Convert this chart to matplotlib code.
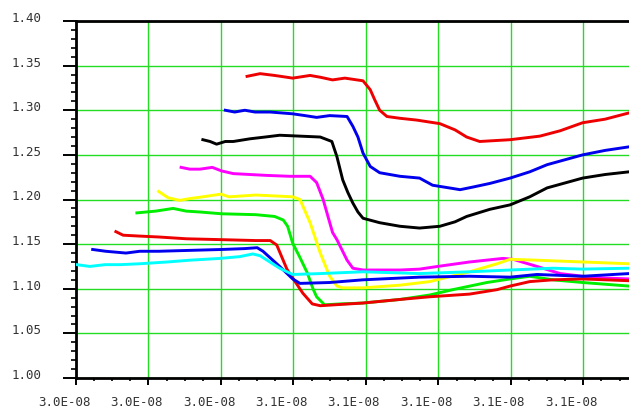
"""
Curvas de transicion (9 trazas) sobre rejilla verde.
"""

from __future__ import annotations

import matplotlib

matplotlib.use("Agg")
import matplotlib.pyplot as plt
from matplotlib.ticker import FixedLocator, MultipleLocator, FixedFormatter
from matplotlib.transforms import ScaledTranslation


# --- Datos (eje x en divisiones de la rejilla) ---
X_TICK_LABELS = ["3.0E-08", "3.0E-08", "3.0E-08", "3.1E-08",
                 "3.1E-08", "3.1E-08", "3.1E-08", "3.1E-08"]
Y_TICKS = [1.00, 1.05, 1.10, 1.15, 1.20, 1.25, 1.30, 1.35, 1.40]

X_RED_TOP = [2.36, 2.54, 2.74, 2.99, 3.23, 3.37, 3.54, 3.71, 3.96, 4.06, 4.12, 4.19,
             4.29, 4.47, 4.70, 5.02, 5.23, 5.39, 5.57, 5.99, 6.40, 6.68, 6.99, 7.30, 7.63]
Y_RED_TOP = [1.338, 1.341, 1.339, 1.336, 1.339, 1.337, 1.334, 1.336, 1.333, 1.323, 1.312, 1.300,
             1.293, 1.291, 1.289, 1.285, 1.278, 1.270, 1.265, 1.267, 1.271, 1.277, 1.286, 1.290, 1.297]

X_BLUE_TOP = [2.06, 2.19, 2.33, 2.47, 2.68, 2.99, 3.16, 3.32, 3.50, 3.74, 3.82, 3.89, 3.96,
              4.06, 4.19, 4.47, 4.74, 4.92, 5.30, 5.48, 5.71, 5.99, 6.26, 6.50, 6.99, 7.30, 7.63]
Y_BLUE_TOP = [1.300, 1.298, 1.300, 1.298, 1.298, 1.296, 1.294, 1.292, 1.294, 1.293, 1.282, 1.270, 1.252,
              1.237, 1.230, 1.226, 1.224, 1.216, 1.211, 1.214, 1.218, 1.224, 1.231, 1.239, 1.250, 1.255, 1.259]

X_BLACK = [1.75, 1.85, 1.94, 2.06, 2.17, 2.40, 2.61, 2.81, 3.09, 3.37, 3.53, 3.60, 3.68, 3.75,
           3.82, 3.89, 3.96, 4.19, 4.47, 4.74, 5.02, 5.23, 5.39, 5.71, 5.99, 6.26, 6.50, 6.99, 7.30, 7.63]
Y_BLACK = [1.267, 1.265, 1.262, 1.265, 1.265, 1.268, 1.270, 1.272, 1.271, 1.270, 1.265, 1.248, 1.222, 1.208,
           1.196, 1.186, 1.179, 1.174, 1.170, 1.168, 1.170, 1.175, 1.181, 1.189, 1.194, 1.203, 1.213, 1.224, 1.228, 1.231]

X_MAGENTA = [1.45, 1.57, 1.71, 1.88, 2.01, 2.17, 2.40, 2.63, 2.95, 3.23, 3.32, 3.41, 3.48, 3.54,
             3.60, 3.74, 3.82, 3.96, 4.47, 4.74, 4.99, 5.43, 5.89, 6.03, 6.36, 6.68, 6.99, 7.30, 7.63]
Y_MAGENTA = [1.236, 1.234, 1.234, 1.236, 1.232, 1.229, 1.228, 1.227, 1.226, 1.226, 1.219, 1.200, 1.180, 1.163,
             1.155, 1.132, 1.123, 1.121, 1.121, 1.122, 1.125, 1.130, 1.134, 1.133, 1.125, 1.117, 1.114, 1.112, 1.111]

X_YELLOW = [1.14, 1.27, 1.43, 1.57, 1.75, 2.00, 2.11, 2.48, 2.74, 2.99, 3.09, 3.23, 3.37, 3.50,
            3.60, 3.68, 3.96, 4.47, 4.88, 5.43, 5.81, 5.99, 6.36, 6.99, 7.63]
Y_YELLOW = [1.209, 1.202, 1.199, 1.201, 1.203, 1.206, 1.203, 1.205, 1.204, 1.203, 1.200, 1.174, 1.140, 1.114,
            1.103, 1.101, 1.101, 1.104, 1.108, 1.119, 1.128, 1.133, 1.132, 1.130, 1.128]

X_GREEN = [0.84, 1.10, 1.34, 1.52, 1.71, 2.01, 2.48, 2.74, 2.86, 2.92, 2.99, 3.09, 3.19, 3.27, 3.32,
           3.43, 3.64, 3.96, 4.47, 4.88, 5.20, 5.67, 5.99, 6.26, 6.58, 6.99, 7.63]
Y_GREEN = [1.185, 1.187, 1.190, 1.187, 1.186, 1.184, 1.183, 1.181, 1.177, 1.170, 1.151, 1.135, 1.118, 1.100, 1.091,
           1.082, 1.083, 1.084, 1.088, 1.093, 1.099, 1.107, 1.111, 1.114, 1.110, 1.107, 1.103]

X_RED_LOW = [0.55, 0.65, 0.88, 1.14, 1.52, 2.01, 2.48, 2.68, 2.77, 2.91, 2.99, 3.13, 3.26, 3.37,
             3.96, 4.47, 4.88, 5.43, 5.81, 5.99, 6.26, 6.58, 6.99, 7.63]
Y_RED_LOW = [1.164, 1.160, 1.159, 1.158, 1.156, 1.155, 1.154, 1.154, 1.149, 1.122, 1.112, 1.095, 1.083, 1.081,
             1.084, 1.088, 1.091, 1.094, 1.099, 1.103, 1.108, 1.110, 1.111, 1.109]

X_BLUE_LOW = [0.23, 0.41, 0.69, 0.88, 1.14, 1.57, 2.01, 2.33, 2.50, 2.58, 2.81, 2.99, 3.09, 3.50,
              3.96, 4.74, 5.43, 5.99, 6.36, 6.99, 7.63]
Y_BLUE_LOW = [1.144, 1.142, 1.140, 1.142, 1.142, 1.143, 1.144, 1.145, 1.146, 1.142, 1.125, 1.111, 1.106, 1.107,
              1.110, 1.113, 1.114, 1.113, 1.116, 1.114, 1.117]

X_CYAN = [0.01, 0.19, 0.40, 0.61, 0.88, 1.26, 1.57, 1.99, 2.26, 2.44, 2.54, 2.81, 2.99, 3.37,
          3.96, 4.74, 5.43, 5.99, 6.58, 6.99, 7.63]
Y_CYAN = [1.127, 1.125, 1.127, 1.127, 1.128, 1.130, 1.132, 1.134, 1.136, 1.139, 1.137, 1.123, 1.116, 1.117,
          1.119, 1.117, 1.119, 1.121, 1.123, 1.122, 1.123]

SERIES = [
    (X_RED_TOP, Y_RED_TOP, "#ee0000"),
    (X_BLUE_TOP, Y_BLUE_TOP, "#0000ee"),
    (X_BLACK, Y_BLACK, "#000000"),
    (X_MAGENTA, Y_MAGENTA, "#ff00ff"),
    (X_YELLOW, Y_YELLOW, "#ffff00"),
    (X_GREEN, Y_GREEN, "#00ee00"),
    (X_RED_LOW, Y_RED_LOW, "#ee0000"),
    (X_BLUE_LOW, Y_BLUE_LOW, "#0000ee"),
    (X_CYAN, Y_CYAN, "#00ffff"),
]

GRID_GREEN = "#22dd22"
OUT = "out.png"


def main() -> None:
    fig = plt.figure(figsize=(6.29, 4.11), dpi=100)
    ax = fig.add_axes([76 / 629, 33 / 411, 1 - 76 / 629, 357 / 411])

    for xs, ys, color in SERIES:
        ax.plot(xs, ys, color=color, linewidth=2.1, zorder=3)

    ax.set_xlim(0, 7.63)
    ax.set_ylim(1.0, 1.4)

    # --- Ejes y rejilla ---
    ax.xaxis.set_major_locator(FixedLocator(range(len(X_TICK_LABELS))))
    ax.xaxis.set_major_formatter(FixedFormatter(X_TICK_LABELS))
    ax.xaxis.set_minor_locator(MultipleLocator(0.25))
    ax.set_yticks(Y_TICKS)
    ax.set_yticklabels([f"{v:.2f}" for v in Y_TICKS])
    ax.yaxis.set_minor_locator(MultipleLocator(0.01))

    ax.grid(True, which="major", color=GRID_GREEN, linewidth=1.0, zorder=1)
    ax.set_axisbelow(True)

    ax.spines["right"].set_visible(False)
    for side in ("top", "left", "bottom"):
        ax.spines[side].set_linewidth(2.0)
        ax.spines[side].set_color("black")

    ax.tick_params(axis="y", which="major", direction="out", length=9.5, width=1.4,
                   pad=15, labelsize=9, labelcolor="#333333")
    ax.tick_params(axis="y", which="minor", direction="out", length=3.5, width=1.2)
    ax.tick_params(axis="x", which="major", direction="out", length=5, width=1.4,
                   pad=8, labelsize=9, labelcolor="#333333")
    ax.tick_params(axis="x", which="minor", direction="out", length=2.5, width=1.2)

    for lbl in ax.get_xticklabels() + ax.get_yticklabels():
        lbl.set_family("DejaVu Sans Mono")

    # etiquetas ligeramente desplazadas como en el original
    dx = ScaledTranslation(-12 / 100, 0, fig.dpi_scale_trans)
    dy = ScaledTranslation(0, 4 / 100, fig.dpi_scale_trans)
    for lbl in ax.get_xticklabels():
        lbl.set_transform(lbl.get_transform() + dx)
    for lbl in ax.get_yticklabels():
        lbl.set_transform(lbl.get_transform() + dy)

    fig.savefig(OUT, dpi=100)
    plt.close(fig)


if __name__ == "__main__":
    main()
